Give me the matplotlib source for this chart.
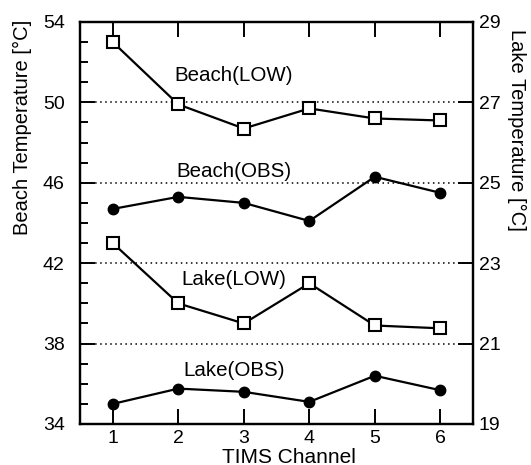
import matplotlib
matplotlib.use('Agg')
import matplotlib.pyplot as plt
from matplotlib.ticker import MultipleLocator

plt.rcParams['font.family'] = ['Liberation Sans', 'DejaVu Sans']

# %%
##########
## Data ##
##########

channels = [1, 2, 3, 4, 5, 6]
beach_low = [53.0, 49.9, 48.7, 49.7, 49.2, 49.1]
beach_obs = [44.7, 45.3, 45.0, 44.1, 46.3, 45.5]
lake_low = [23.5, 22.0, 21.5, 22.5, 21.45, 21.38]
lake_obs = [19.5, 19.88, 19.8, 19.55, 20.2, 19.84]

beach_ticks = [34, 38, 42, 46, 50, 54]
lake_ticks = [19, 21, 23, 25, 27, 29]
grid_levels = [38, 42, 46, 50]

# %%
##########
## Plot ##
##########

W, H = 531, 465
fig = plt.figure(figsize=(W / 100, H / 100), dpi=100)
ax = fig.add_axes([0.1507, 0.0882, 0.7402, 0.8645])
ax2 = ax.twinx()

for lvl in grid_levels:
    ax.axhline(lvl, color='black', lw=1.1, ls=(0, (1, 2.3)), zorder=1)

ax.plot(channels, beach_low, color='black', lw=1.6, marker='s', ms=9,
        mfc='white', mec='black', mew=1.5, zorder=3)
ax.plot(channels, beach_obs, color='black', lw=1.6, marker='o', ms=7.5,
        mfc='black', mec='black', zorder=3)
ax2.plot(channels, lake_low, color='black', lw=1.6, marker='s', ms=9,
         mfc='white', mec='black', mew=1.5, zorder=3)
ax2.plot(channels, lake_obs, color='black', lw=1.6, marker='o', ms=7.5,
         mfc='black', mec='black', zorder=3)

txt_kw = dict(fontsize=14.8, ha='center', va='center', zorder=4)
ax.text(2.85, 51.35, 'Beach(LOW)', **txt_kw)
ax.text(2.85, 46.55, 'Beach(OBS)',
        bbox=dict(facecolor='white', edgecolor='none', pad=0.5), **txt_kw)
ax.text(2.85, 41.2, 'Lake(LOW)', **txt_kw)
ax.text(2.85, 36.65, 'Lake(OBS)', **txt_kw)

ax.set_xlim(0.5, 6.5)
ax.set_ylim(34, 54)
ax2.set_ylim(19, 29)
ax.set_xticks(channels)
ax.set_yticks(beach_ticks)
ax2.set_yticks(lake_ticks)
ax.yaxis.set_minor_locator(MultipleLocator(1))

ax.tick_params(axis='x', direction='in', length=11, width=1.4, top=True,
               labelsize=14, pad=4)
ax.tick_params(axis='y', which='major', direction='in', length=11, width=1.4,
               labelsize=14, pad=11)
ax.tick_params(axis='y', which='minor', direction='in', length=6, width=1.4)
ax2.tick_params(axis='y', direction='in', length=11, width=1.4,
                labelsize=14, pad=4)

for a in (ax, ax2):
    for s in a.spines.values():
        s.set_linewidth(1.6)

# axis titles, placed in figure pixels
fig.text(289 / W, 1 - 457 / H, 'TIMS Channel', fontsize=15,
         ha='center', va='center')
fig.text(22 / W, 1 - 127 / H, 'Beach Temperature [°C]', fontsize=14.5,
         rotation=90, ha='center', va='center')
fig.text(517 / W, 1 - 130 / H, 'Lake Temperature [°C]', fontsize=14.5,
         rotation=270, ha='center', va='center')

fig.savefig('out.png', dpi=100)
